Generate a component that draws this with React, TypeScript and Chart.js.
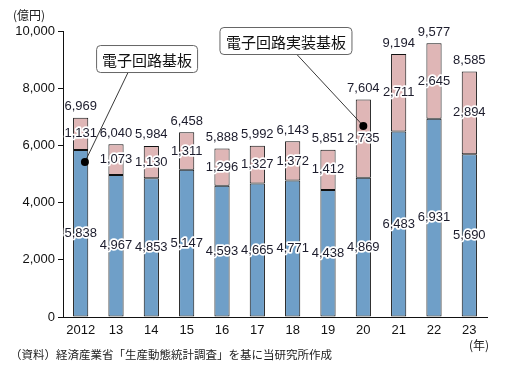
import React, { useEffect, useRef } from "react";
import { Chart, registerables } from "chart.js";

Chart.register(...registerables);

const years = ["2012", "13", "14", "15", "16", "17", "18", "19", "20", "21", "22", "23"];
// 電子回路基板 (blue, bottom)
const kibanValues = [5838, 4967, 4853, 5147, 4593, 4665, 4771, 4438, 4869, 6483, 6931, 5690];
// 電子回路実装基板 (pink, top)
const jissoValues = [1131, 1073, 1130, 1311, 1296, 1327, 1372, 1412, 2735, 2711, 2645, 2894];
const totals = [6969, 6040, 5984, 6458, 5888, 5992, 6143, 5851, 7604, 9194, 9577, 8585];
const yTicks = [0, 2000, 4000, 6000, 8000, 10000];

const NUM_FONT = '"Liberation Sans", Arial, sans-serif';
const JP_FONT = '"Noto Sans CJK JP", "Liberation Sans", sans-serif';
const BLUE = "#6f9fc8";
const PINK = "#dfb6b6";

const fmt = (v: number) => v.toLocaleString("en-US");

const labelPlugin = {
  id: "valueLabels",
  afterDatasetsDraw(chart: any) {
    const ctx = chart.ctx;
    ctx.save();
    ctx.font = `13px ${NUM_FONT}`;
    ctx.textAlign = "center";
    ctx.textBaseline = "middle";
    ctx.lineJoin = "round";
    const drawHalo = (t: string, x: number, y: number) => {
      ctx.strokeStyle = "#ffffff";
      ctx.lineWidth = 3.5;
      ctx.strokeText(t, x, y);
      ctx.fillStyle = "#1c1c2c";
      ctx.fillText(t, x, y);
    };
    chart.data.datasets.forEach((ds: any, di: number) => {
      const meta = chart.getDatasetMeta(di);
      meta.data.forEach((el: any, i: number) => {
        const mid = (el.y + el.base) / 2;
        drawHalo(fmt(ds.data[i]), el.x, mid);
      });
    });
    const topMeta = chart.getDatasetMeta(1);
    topMeta.data.forEach((el: any, i: number) => {
      ctx.fillStyle = "#1c1c2c";
      ctx.fillText(fmt(totals[i]), el.x, el.y - 11);
    });
    ctx.restore();
  },
};

const callouts = [
  { text: "電子回路基板", boxCat: 1.88, boxVal: 9020, boxW: 101, lineCat: 1.34, dotCat: 0.12, dotVal: 5420 },
  { text: "電子回路実装基板", boxCat: 5.81, boxVal: 9650, boxW: 132, lineCat: 6.12, dotCat: 8.0, dotVal: 6680 },
];

const decorPlugin = {
  id: "decor",
  afterDraw(chart: any) {
    const ctx = chart.ctx;
    const xs = chart.scales.x;
    const ys = chart.scales.y;
    ctx.save();
    // callouts
    callouts.forEach((c) => {
      const bx = xs.getPixelForValue(c.boxCat);
      const by = ys.getPixelForValue(c.boxVal);
      const bh = 27;
      const lx = xs.getPixelForValue(c.lineCat);
      const dx = xs.getPixelForValue(c.dotCat);
      const dy = ys.getPixelForValue(c.dotVal);
      ctx.strokeStyle = "#222";
      ctx.lineWidth = 0.9;
      ctx.beginPath();
      ctx.moveTo(lx, by + bh / 2);
      ctx.lineTo(dx, dy);
      ctx.stroke();
      ctx.fillStyle = "#000";
      ctx.beginPath();
      ctx.arc(dx, dy, 4, 0, Math.PI * 2);
      ctx.fill();
      ctx.fillStyle = "#fff";
      ctx.strokeStyle = "#666";
      ctx.lineWidth = 1;
      ctx.beginPath();
      ctx.roundRect(bx - c.boxW / 2, by - bh / 2, c.boxW, bh, 4);
      ctx.fill();
      ctx.stroke();
      ctx.fillStyle = "#111";
      ctx.font = `15px ${JP_FONT}`;
      ctx.textAlign = "center";
      ctx.textBaseline = "middle";
      ctx.fillText(c.text, bx, by + 1);
    });
    // unit labels & source
    ctx.fillStyle = "#222";
    ctx.font = `12px ${JP_FONT}`;
    ctx.textAlign = "left";
    ctx.textBaseline = "middle";
    ctx.fillText("(億円)", 13, 15);
    ctx.textAlign = "right";
    ctx.fillText("(年)", 489, 345);
    ctx.textAlign = "left";
    ctx.font = `11.5px ${JP_FONT}`;
    ctx.fillText("（資料）経済産業省「生産動態統計調査」を基に当研究所作成", 10, 355);
    ctx.restore();
  },
};

export default function App() {
  const ref = useRef<HTMLCanvasElement>(null);
  useEffect(() => {
    document.body.style.margin = "0";
    const chart = new Chart(ref.current!, {
      type: "bar",
      data: {
        labels: years,
        datasets: [
          {
            label: "電子回路基板",
            data: kibanValues,
            backgroundColor: BLUE,
            borderColor: "#111",
            borderWidth: 1,
            borderSkipped: false,
            barPercentage: 0.43,
            categoryPercentage: 1,
          },
          {
            label: "電子回路実装基板",
            data: jissoValues,
            backgroundColor: PINK,
            borderColor: "#111",
            borderWidth: 1,
            borderSkipped: false,
            barPercentage: 0.43,
            categoryPercentage: 1,
          },
        ],
      },
      options: {
        animation: false,
        responsive: false,
        maintainAspectRatio: false,
        layout: { padding: { top: 31, right: 22, left: 0, bottom: 0 } },
        plugins: { legend: { display: false }, tooltip: { enabled: false } },
        scales: {
          x: {
            stacked: true,
            grid: { display: false, drawTicks: false },
            border: { display: true, color: "#111", width: 1 },
            ticks: { color: "#111", font: { size: 13, family: NUM_FONT }, padding: 6, maxRotation: 0 },
            afterFit: (s: any) => {
              s.height = 60;
            },
          },
          y: {
            stacked: true,
            min: 0,
            max: 10000,
            afterBuildTicks: (s: any) => {
              s.ticks = yTicks.map((v) => ({ value: v }));
            },
            grid: { drawOnChartArea: false, drawTicks: true, tickLength: 5, color: "#111" },
            border: { display: true, color: "#111", width: 1 },
            ticks: {
              color: "#111",
              font: { size: 13, family: NUM_FONT },
              padding: 3,
              callback: (v: any) => fmt(Number(v)),
            },
            afterFit: (s: any) => {
              s.width = 63;
            },
          },
        },
      },
      plugins: [labelPlugin, decorPlugin],
    });
    return () => chart.destroy();
  }, []);
  return (
    <div style={{ width: 509, height: 377 }}>
      <canvas ref={ref} width={509} height={377} style={{ display: "block" }} />
    </div>
  );
}
